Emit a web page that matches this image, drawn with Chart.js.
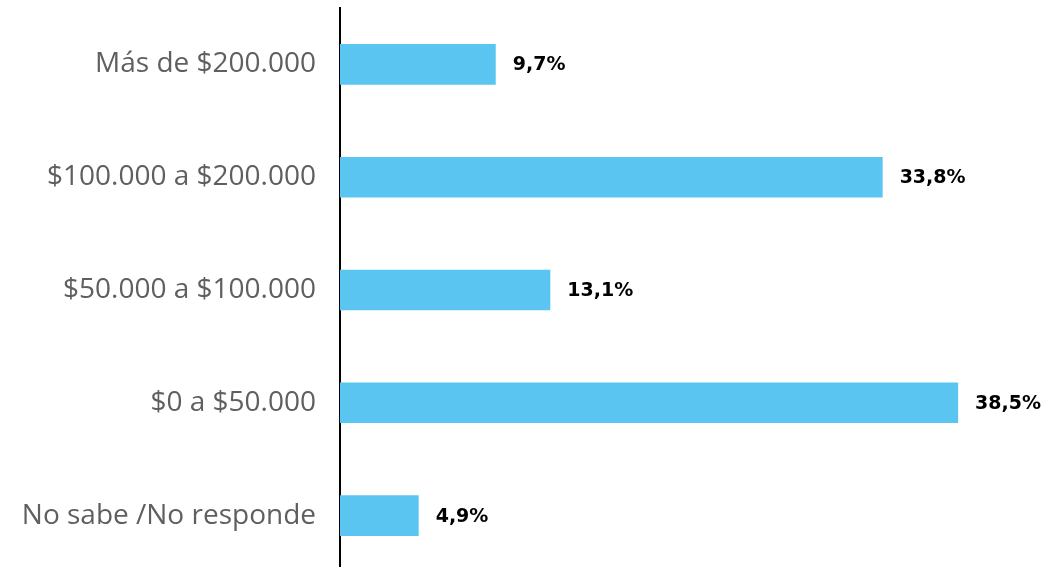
<!DOCTYPE html>
<html>
<head>
<meta charset="utf-8">
<script src="https://cdn.jsdelivr.net/npm/chart.js@4"></script>
<style>
  html, body { margin: 0; padding: 0; background: #fff; overflow: hidden; }
  #wrap { width: 1044px; height: 572px; position: relative; }
</style>
</head>
<body>
<div id="wrap"><canvas id="chart1"></canvas></div>
<script>
'use strict'

const categories = ['Más de $200.000', '$100.000 a $200.000', '$50.000 a $100.000', '$0 a $50.000', 'No sabe /No responde'];
const values = [9.7, 33.8, 13.1, 38.5, 4.9];
const valueLabels = ['9,7%', '33,8%', '13,1%', '38,5%', '4,9%'];

// draws the percentage next to each bar end
const barLabels = {
    id: 'barLabels',
    afterDatasetsDraw(chart) {
        const ctx = chart.ctx;
        const meta = chart.getDatasetMeta(0);
        ctx.save();
        ctx.font = 'bold 19px "DejaVu Sans"';
        ctx.fillStyle = '#000';
        ctx.textAlign = 'left';
        ctx.textBaseline = 'middle';
        meta.data.forEach((bar, i) => {
            ctx.fillText(valueLabels[i], bar.x + 17, bar.y + 1);
        });
        ctx.restore();
    }
};

const ctx = document.getElementById('chart1').getContext('2d');
const myChart = new Chart(ctx, {
    type: 'bar',
    data: {
        labels: categories,
        datasets: [{
            data: values,
            backgroundColor: '#5BC5F2',
            borderWidth: 0,
            barPercentage: 0.36,
            categoryPercentage: 1
        }]
    },
    options: {
        indexAxis: 'y',
        responsive: true,
        maintainAspectRatio: false,
        animation: false,
        layout: { padding: { top: 8, right: 0, bottom: 0, left: 0 } },
        plugins: {
            legend: { display: false },
            tooltip: { enabled: false }
        },
        scales: {
            x: {
                display: false,
                min: 0,
                max: 43.85
            },
            y: {
                afterFit(scale) {
                    scale.width = 340;
                    scale.paddingTop = 0;
                    scale.paddingBottom = 0;
                },
                grid: { display: false, drawTicks: false },
                border: { display: true, color: '#000', width: 2 },
                ticks: {
                    padding: 24,
                    color: '#5f5f5f',
                    font: { family: 'Open Sans', size: 28 }
                }
            }
        }
    },
    plugins: [barLabels]
});
</script>
</body>
</html>
